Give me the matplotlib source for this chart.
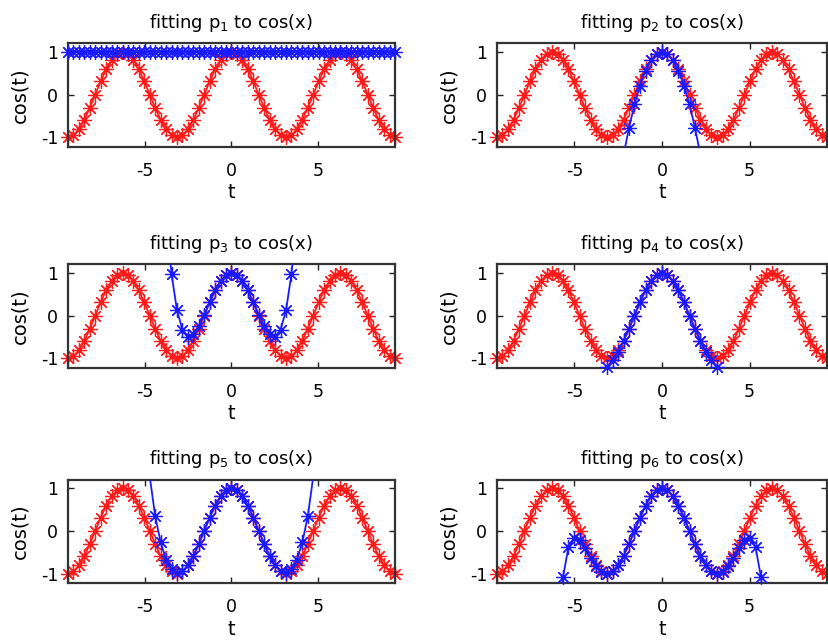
import matplotlib
matplotlib.use('Agg')
import matplotlib.pyplot as plt
import numpy as np

plt.rcParams['font.family'] = ['DejaVu Sans']
plt.rcParams['axes.unicode_minus'] = False

# sample points, -3pi .. 3pi in steps of pi/10
t = [-9.425, -9.111, -8.796, -8.482, -8.168, -7.854, -7.540, -7.226, -6.912, -6.597,
     -6.283, -5.969, -5.655, -5.341, -5.027, -4.712, -4.398, -4.084, -3.770, -3.456,
     -3.142, -2.827, -2.513, -2.199, -1.885, -1.571, -1.257, -0.942, -0.628, -0.314,
     0.000,
     0.314, 0.628, 0.942, 1.257, 1.571, 1.885, 2.199, 2.513, 2.827, 3.142,
     3.456, 3.770, 4.084, 4.398, 4.712, 5.027, 5.341, 5.655, 5.969, 6.283,
     6.597, 6.912, 7.226, 7.540, 7.854, 8.168, 8.482, 8.796, 9.111, 9.425]

# cos(t) at those points
cos_vals = [-1.00, -0.95, -0.81, -0.59, -0.31, 0.00, 0.31, 0.59, 0.81, 0.95,
            1.00, 0.95, 0.81, 0.59, 0.31, 0.00, -0.31, -0.59, -0.81, -0.95,
            -1.00, -0.95, -0.81, -0.59, -0.31, 0.00, 0.31, 0.59, 0.81, 0.95,
            1.00,
            0.95, 0.81, 0.59, 0.31, 0.00, -0.31, -0.59, -0.81, -0.95, -1.00,
            -0.95, -0.81, -0.59, -0.31, 0.00, 0.31, 0.59, 0.81, 0.95, 1.00,
            0.95, 0.81, 0.59, 0.31, 0.00, -0.31, -0.59, -0.81, -0.95, -1.00]

# polynomial values, each given from index `start` in t
p1_start = 0
p1_vals = [1.00] * 61

p2_start = 23
p2_vals = [-1.42, -0.78, -0.23, 0.21, 0.56, 0.80, 0.95, 1.00,
           0.95, 0.80, 0.56, 0.21, -0.23, -0.78, -1.42]

p3_start = 18
p3_vals = [2.31, 0.97, 0.12, -0.33, -0.50, -0.44, -0.25, 0.02, 0.31, 0.59, 0.81, 0.95,
           1.00,
           0.95, 0.81, 0.59, 0.31, 0.02, -0.25, -0.44, -0.50, -0.33, 0.12, 0.97, 2.31]

p4_start = 19
p4_vals = [-1.39, -1.21, -1.04, -0.85, -0.60, -0.31, 0.00, 0.31, 0.59, 0.81, 0.95,
           1.00,
           0.95, 0.81, 0.59, 0.31, 0.00, -0.31, -0.60, -0.85, -1.04, -1.21, -1.39]

p5_start = 15
p5_vals = [1.27, 0.34, -0.27, -0.67, -0.89, -0.98, -0.94, -0.81, -0.59, -0.31,
           0.00, 0.31, 0.59, 0.81, 0.95,
           1.00,
           0.95, 0.81, 0.59, 0.31, 0.00,
           -0.31, -0.59, -0.81, -0.94, -0.98, -0.89, -0.67, -0.27, 0.34, 1.27]

p6_start = 11
p6_vals = [-2.59, -1.08, -0.38, -0.17, -0.22, -0.41, -0.63, -0.82, -0.96, -1.00,
           -0.95, -0.81, -0.59, -0.31, 0.00, 0.31, 0.59, 0.81, 0.95,
           1.00,
           0.95, 0.81, 0.59, 0.31, 0.00, -0.31, -0.59, -0.81, -0.95,
           -1.00, -0.96, -0.82, -0.63, -0.41, -0.22, -0.17, -0.38, -1.08, -2.59]

fits = [(p1_start, p1_vals), (p2_start, p2_vals), (p3_start, p3_vals),
        (p4_start, p4_vals), (p5_start, p5_vals), (p6_start, p6_vals)]

xmax = 9.4248
ylo, yhi = -1.22, 1.2
star = (8, 2, 0)

fig = plt.figure(figsize=(8.29, 6.41), dpi=100)
lefts = [68 / 829, 497 / 829]
widths = [327 / 829, 330 / 829]
bottoms = [1 - 146.7 / 641, 1 - 367.7 / 641, 1 - 583 / 641]
h = 103.4 / 641


def draw_series(ax, x, y, color, z):
    x = np.asarray(x)
    y = np.asarray(y)
    ax.plot(x, y, '-', color=color, lw=1.3, zorder=z)
    keep = (y >= ylo - 0.05) & (y <= yhi + 0.05)
    ax.plot(x[keep], y[keep], ls='none', marker=star, ms=10.5, mew=0.9,
            color=color, clip_on=False, zorder=z)


for i, (start, vals) in enumerate(fits):
    row, col = i // 2, i % 2
    ax = fig.add_axes([lefts[col], bottoms[row], widths[col], h])
    draw_series(ax, t, cos_vals, '#ff1a1a', 2)
    draw_series(ax, t[start:start + len(vals)], vals, '#1a1aff', 3)

    ax.set_xlim(-xmax, xmax)
    ax.set_ylim(ylo, yhi)
    ax.set_xticks([-5, 0, 5])
    ax.set_yticks([-1, 0, 1])
    ax.tick_params(direction='in', top=True, right=True, length=4, width=1,
                   labelsize=12.5, color='#222222')
    ax.tick_params(axis='x', pad=11)
    ax.tick_params(axis='y', pad=7)
    for s in ax.spines.values():
        s.set_linewidth(1.6)
        s.set_color('#333333')
    ax.set_title('fitting p$_{%d}$ to cos(x)' % (i + 1), fontsize=13, pad=11)
    ax.set_xlabel('t', fontsize=14, labelpad=2.5)
    ax.set_ylabel('cos(t)', fontsize=14, labelpad=8)

fig.savefig('out.png', dpi=100)
